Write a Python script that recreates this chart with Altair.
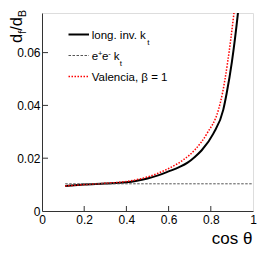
import altair as alt
import pandas as pd

# ---- data ----
black_x = [0.11, 0.2, 0.3, 0.4, 0.45, 0.5, 0.55, 0.6, 0.65, 0.69, 0.72, 0.757, 0.812, 0.859, 0.875, 0.90, 0.929, 0.95]
black_y = [0.0095, 0.0100, 0.0104, 0.0109, 0.0115, 0.0123, 0.0135, 0.0150, 0.0166, 0.0183, 0.0202, 0.0230, 0.0293, 0.0383, 0.0445, 0.0565, 0.0752, 0.092]

red_x = [0.11, 0.2, 0.3, 0.4, 0.45, 0.5, 0.55, 0.6, 0.64, 0.67, 0.725, 0.783, 0.836, 0.855, 0.88, 0.91, 0.93]
red_y = [0.0095, 0.0100, 0.0105, 0.0112, 0.0119, 0.0129, 0.0143, 0.0161, 0.0178, 0.0194, 0.0232, 0.0295, 0.0383, 0.0445, 0.0565, 0.0752, 0.090]

gray_x = [0.11, 1.0]
gray_y = [0.0103, 0.0103]

x_ticks = [0, 0.2, 0.4, 0.6, 0.8, 1.0]
y_ticks = [0, 0.02, 0.04, 0.06]

FONT = "Liberation Sans"
W, H = 211, 198

black = pd.DataFrame({"x": black_x, "y": black_y})
red = pd.DataFrame({"x": red_x, "y": red_y})
gray = pd.DataFrame({"x": gray_x, "y": gray_y})

xs = alt.Scale(domain=[0, 1], nice=False, zero=False)
ys = alt.Scale(domain=[0, 0.075], nice=False, zero=False)

xaxis = alt.Axis(values=x_ticks, format="~g", ticks=False, grid=False, title=None,
                 labelFont=FONT, labelFontSize=12, labelColor="#000", labelPadding=3,
                 labelFlush=False, labelOverlap=False, domainColor="#333")
yaxis = alt.Axis(values=y_ticks, format="~g", ticks=False, grid=False, title=None,
                 labelFont=FONT, labelFontSize=12, labelColor="#000", labelPadding=2,
                 labelOverlap=False, domainColor="#333")

base_black = alt.Chart(black).mark_line(color="black", strokeWidth=2, clip=True,
                                        interpolate="monotone").encode(
    x=alt.X("x:Q", scale=xs, axis=xaxis),
    y=alt.Y("y:Q", scale=ys, axis=yaxis),
)
line_red = alt.Chart(red).mark_line(color="#ff0000", strokeWidth=1.5, strokeDash=[1.5, 1.5],
                                    clip=True, interpolate="monotone").encode(
    x=alt.X("x:Q", scale=xs), y=alt.Y("y:Q", scale=ys))
line_gray = alt.Chart(gray).mark_line(color="#555", strokeWidth=1, strokeDash=[2.5, 1.5],
                                      clip=True).encode(
    x=alt.X("x:Q", scale=xs), y=alt.Y("y:Q", scale=ys))

# inward tick marks
xt = alt.Chart(pd.DataFrame({"v": x_ticks[1:-1]})).mark_rule(color="#333", strokeWidth=1).encode(
    x=alt.X("v:Q", scale=xs), y=alt.value(H), y2=alt.value(H - 5))
yt = alt.Chart(pd.DataFrame({"v": y_ticks[1:]})).mark_rule(color="#333", strokeWidth=1).encode(
    y=alt.Y("v:Q", scale=ys), x=alt.value(0), x2=alt.value(6))

def txt(s, x, y, size, angle=0, align="left", baseline="alphabetic", color="black"):
    kw = dict(text=s, font=FONT, fontSize=size, align=align, baseline=baseline, color=color)
    if angle:
        kw["angle"] = angle
    return alt.Chart(pd.DataFrame({"a": [0]})).mark_text(**kw).encode(
        x=alt.value(x), y=alt.value(y))

# legend
leg_lines = [
    alt.Chart(pd.DataFrame({"a": [0]})).mark_rule(color="black", strokeWidth=2).encode(
        x=alt.value(26.5), x2=alt.value(47), y=alt.value(21.5)),
    alt.Chart(pd.DataFrame({"a": [0]})).mark_rule(color="#555", strokeWidth=1, strokeDash=[2.5, 1.5]).encode(
        x=alt.value(26.5), x2=alt.value(47), y=alt.value(42.5)),
    alt.Chart(pd.DataFrame({"a": [0]})).mark_rule(color="#ff0000", strokeWidth=1.5, strokeDash=[1.5, 1.5]).encode(
        x=alt.value(26.5), x2=alt.value(47), y=alt.value(63.5)),
]
tx = 49.7
leg_text = [
    txt("long. inv. k", tx, 26, 11.5),
    txt("t", tx + 55.5, 31.5, 8),
    txt("e", tx, 47, 11.5),
    txt("+", tx + 6.2, 43, 7.5),
    txt("e", tx + 10.2, 47, 11.5),
    txt("-", tx + 16.5, 43, 7.5),
    txt("k", tx + 22, 47, 11.5),
    txt("t", tx + 28, 52.5, 8),
    txt("Valencia, \u03b2 = 1", tx, 68, 11.5),
]

# axis titles
titles = [
    txt("cos \u03b8", 210.5, 231, 17, align="right"),
    txt("d", -20.2, 30, 16.5, angle=270),
    txt("f", -16.4, 20.8, 10.5, angle=270),
    txt("/d", -20.2, 17.8, 16.5, angle=270),
    txt("B", -16.4, 4, 10.5, angle=270),
]

chart = alt.layer(base_black, line_red, line_gray, xt, yt, *leg_lines, *leg_text, *titles).properties(
    width=W, height=H,
    autosize="none",
    padding={"left": 34, "top": 5, "right": 5, "bottom": 41},
).configure_view(stroke="#999", strokeWidth=1).configure(background="white")

chart.save("out.html", embed_options={"renderer": "svg", "actions": False})
